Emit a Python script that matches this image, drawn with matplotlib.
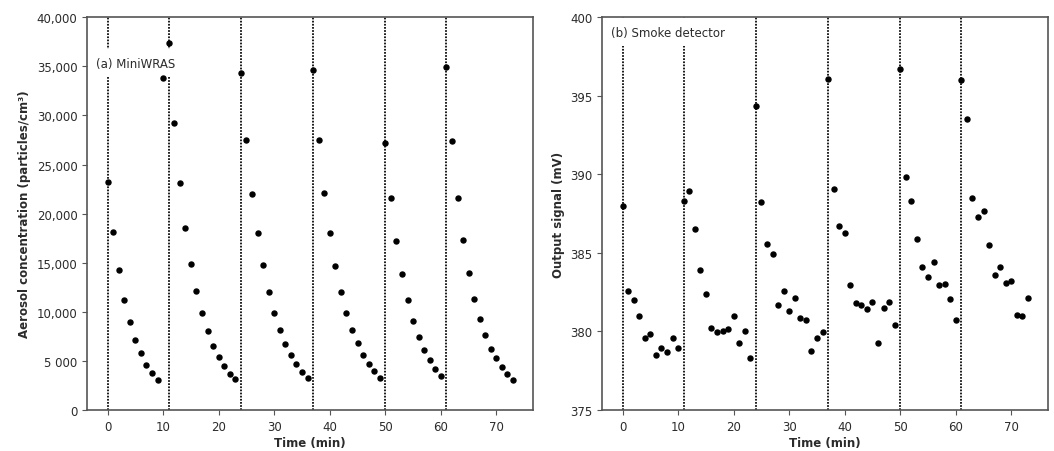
import matplotlib
matplotlib.use("Agg")
import matplotlib.pyplot as plt

# time axis, one reading per minute
time_min = list(range(74))

# (a) MiniWRAS total concentration, particles/cm3
miniwras = [
    23250, 18100, 14260, 11200, 9000, 7160, 5770, 4620, 3740, 3020,
    33800, 37400, 29200, 23150, 18500, 14900, 12100, 9900, 8070, 6550,
    5430, 4450, 3700, 3130, 34350, 27500, 22000, 18000, 14770, 12000,
    9900, 8180, 6750, 5630, 4710, 3900, 3230, 34650, 27500, 22130,
    18000, 14660, 12000, 9900, 8180, 6790, 5560, 4650, 3940, 3230,
    27200, 21560, 17200, 13850, 11200, 9090, 7460, 6080, 5060, 4140,
    3430, 34960, 27400, 21560, 17300, 13950, 11300, 9300, 7670, 6240,
    5260, 4350, 3640, 3020,
]

# (b) smoke detector output, mV
smoke = [
    388.0, 382.57, 382.0, 381.0, 379.6, 379.86, 378.52, 378.97, 378.71, 379.6,
    378.97, 388.32, 388.94, 386.52, 383.91, 382.38, 380.24, 379.98, 380.05, 380.16,
    381.0, 379.28, 380.05, 378.33, 394.37, 388.26, 385.55, 384.91, 381.7, 382.57,
    381.32, 382.13, 380.84, 380.75, 378.78, 379.6, 379.95, 396.09, 389.09, 386.69,
    386.25, 382.96, 381.81, 381.7, 381.45, 381.89, 379.28, 381.51, 381.89, 380.43,
    396.73, 389.85, 388.32, 385.88, 384.1, 383.47, 384.42, 382.96, 383.02, 382.07,
    380.75, 396.03, 393.52, 388.51, 387.27, 387.65, 385.48, 383.59, 384.1, 383.08,
    383.21, 381.07, 381.0, 382.15,
]

# moments when aerosol was injected
injections = [0, 11, 24, 37, 50, 61]

conc_ticks = [0, 5000, 10000, 15000, 20000, 25000, 30000, 35000, 40000]
conc_labels = ["0", "5 000", "10,000", "15,000", "20,000", "25,000",
               "30,000", "35,000", "40,000"]
mv_ticks = [375, 380, 385, 390, 395, 400]

FS = 8.5
INK = "#2b2b2b"

plt.rcParams["font.family"] = "DejaVu Sans"
plt.rcParams["axes.edgecolor"] = "#555555"
plt.rcParams["xtick.color"] = "#555555"
plt.rcParams["ytick.color"] = "#555555"

fig = plt.figure(figsize=(10.54, 4.52), dpi=100)
ax_a = fig.add_axes([0.0828, 0.0907, 0.4232, 0.8688])
ax_b = fig.add_axes([0.5714, 0.0907, 0.4232, 0.8688])


def draw_panel(ax, y, title, ylabel, title_y):
    ax.plot(time_min, y, "o", color="black", markersize=3.6, zorder=4)
    for t in injections:
        ax.axvline(t, color="black", linestyle=(0, (1, 0.8)), linewidth=1.25,
                   zorder=2)
    # white box hides the dotted lines behind the panel title
    ax.text(0.019, title_y, title, transform=ax.transAxes, fontsize=FS,
            color=INK, va="center", ha="left", zorder=3,
            bbox=dict(facecolor="white", edgecolor="none", pad=5.5))
    ax.set_xlim(-3.65, 76.65)
    ax.set_xticks([0, 10, 20, 30, 40, 50, 60, 70])
    ax.set_xlabel("Time (min)", fontsize=FS, fontweight="bold", color=INK,
                  labelpad=2)
    ax.set_ylabel(ylabel, fontsize=FS, fontweight="bold", color=INK)
    ax.tick_params(labelsize=FS, labelcolor=INK)
    for s in ax.spines.values():
        s.set_linewidth(1.2)
        s.set_zorder(5)


draw_panel(ax_a, miniwras, "(a) MiniWRAS",
           "Aerosol concentration (particles/cm³)", 0.883)
ax_a.set_ylim(0, 40000)
ax_a.set_yticks(conc_ticks)
ax_a.set_yticklabels(conc_labels)

draw_panel(ax_b, smoke, "(b) Smoke detector", "Output signal (mV)", 0.962)
ax_b.set_ylim(375, 400)
ax_b.set_yticks(mv_ticks)

fig.savefig("out.png", dpi=100)
